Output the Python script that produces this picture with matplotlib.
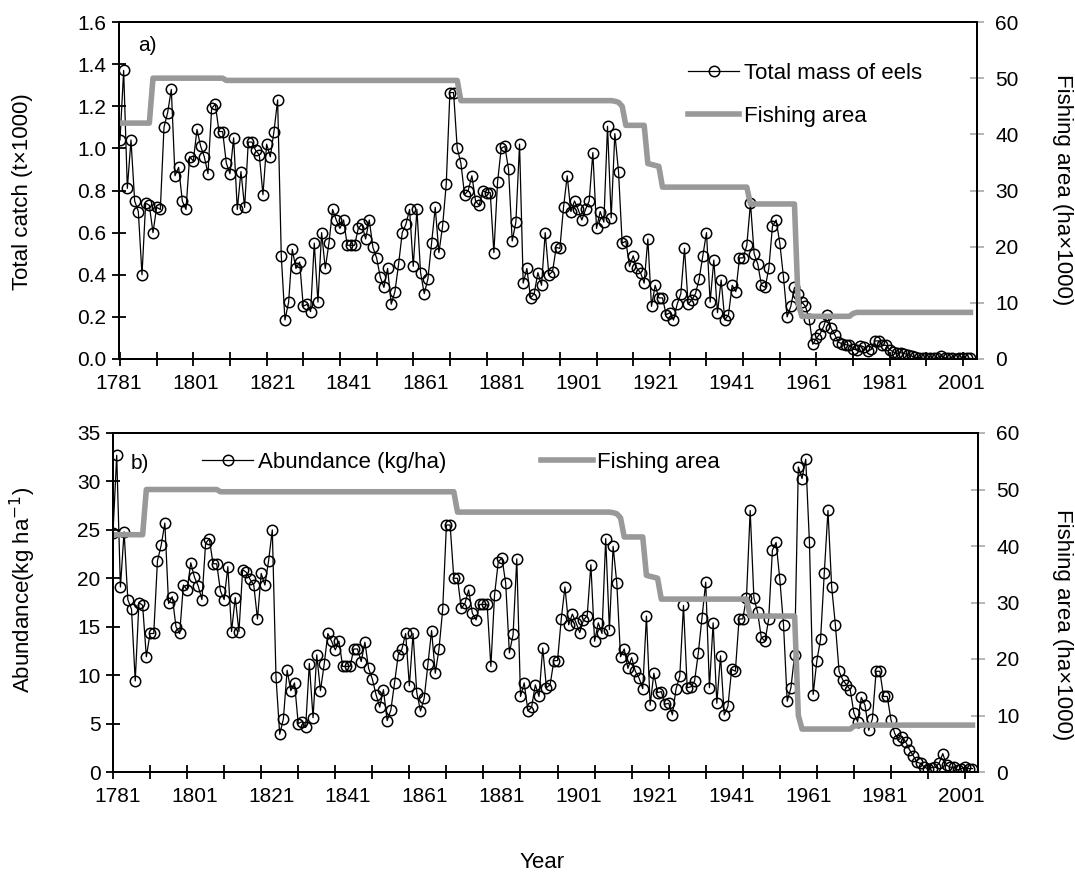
import matplotlib
matplotlib.use('Agg')
import matplotlib.pyplot as plt
import numpy as np

plt.rcParams['font.family'] = ['Liberation Sans', 'DejaVu Sans']

years = np.arange(1781, 2014)

# total catch, t x 1000 (one value per year, 1781-2013)
catch = [
    1.04, 1.37, 0.81, 1.04, 0.75, 0.70, 0.40, 0.74, 0.73, 0.60,
    0.72, 0.71, 1.10, 1.17, 1.28, 0.87, 0.91, 0.75, 0.71, 0.96,
    0.94, 1.09, 1.01, 0.96, 0.88, 1.19, 1.21, 1.08, 1.08, 0.93,
    0.88, 1.05, 0.71, 0.89, 0.72, 1.03, 1.03, 0.99, 0.97, 0.78,
    1.02, 0.96, 1.08, 1.23, 0.49, 0.185, 0.27, 0.52, 0.43, 0.46,
    0.25, 0.26, 0.225, 0.55, 0.27, 0.60, 0.43, 0.55, 0.71, 0.66,
    0.62, 0.66, 0.54, 0.54, 0.54, 0.62, 0.64, 0.57, 0.66, 0.53,
    0.48, 0.39, 0.34, 0.43, 0.26, 0.32, 0.45, 0.60, 0.64, 0.71,
    0.44, 0.71, 0.41, 0.31, 0.38, 0.55, 0.72, 0.505, 0.63, 0.83,
    1.265, 1.265, 1.00, 0.93, 0.78, 0.80, 0.87, 0.75, 0.73, 0.80,
    0.79, 0.79, 0.505, 0.84, 1.00, 1.01, 0.90, 0.56, 0.65, 1.02,
    0.36, 0.43, 0.29, 0.31, 0.41, 0.35, 0.60, 0.40, 0.415, 0.53,
    0.525, 0.72, 0.87, 0.70, 0.75, 0.71, 0.66, 0.71, 0.75, 0.98,
    0.62, 0.70, 0.65, 1.105, 0.67, 1.07, 0.89, 0.55, 0.56, 0.44,
    0.49, 0.43, 0.41, 0.36, 0.57, 0.25, 0.35, 0.29, 0.29, 0.21,
    0.22, 0.185, 0.26, 0.31, 0.525, 0.26, 0.28, 0.31, 0.38, 0.49,
    0.60, 0.27, 0.47, 0.22, 0.375, 0.185, 0.21, 0.35, 0.32, 0.48,
    0.48, 0.54, 0.74, 0.50, 0.45, 0.35, 0.34, 0.43, 0.63, 0.66,
    0.55, 0.39, 0.20, 0.25, 0.34, 0.31, 0.27, 0.25, 0.19, 0.07,
    0.10, 0.12, 0.155, 0.21, 0.145, 0.115, 0.08, 0.072, 0.068, 0.065,
    0.047, 0.043, 0.064, 0.057, 0.036, 0.046, 0.086, 0.086, 0.065, 0.065,
    0.045, 0.033, 0.027, 0.030, 0.026, 0.019, 0.014, 0.008, 0.007, 0.004,
    0.003, 0.004, 0.004, 0.007, 0.015, 0.006, 0.004, 0.004, 0.002, 0.003,
    0.004, 0.003, 0.003,
]

# abundance, kg/ha (1781-2013)
abundance = [
    24.7, 32.7, 19.1, 24.8, 17.8, 16.8, 9.4, 17.5, 17.2, 11.9,
    14.3, 14.3, 21.8, 23.4, 25.7, 17.4, 18.1, 15.0, 14.3, 19.3,
    18.8, 21.6, 20.1, 19.2, 17.8, 23.6, 24.1, 21.5, 21.5, 18.7,
    17.8, 21.2, 14.5, 18.0, 14.5, 20.9, 20.6, 19.9, 19.3, 15.8,
    20.5, 19.3, 21.8, 25.0, 9.8, 3.9, 5.5, 10.5, 8.4, 9.2,
    5.0, 5.2, 4.6, 11.2, 5.6, 12.1, 8.4, 11.1, 14.3, 13.5,
    12.6, 13.5, 10.9, 10.9, 10.9, 12.7, 12.7, 11.4, 13.4, 10.7,
    9.6, 8.0, 6.7, 8.5, 5.3, 6.4, 9.2, 12.1, 12.7, 14.3,
    8.9, 14.3, 8.2, 6.3, 7.6, 11.1, 14.6, 10.2, 12.7, 16.8,
    25.5, 25.5, 20.0, 20.0, 16.9, 17.4, 18.8, 16.4, 15.7, 17.3,
    17.3, 17.3, 10.9, 18.3, 21.7, 22.1, 19.5, 12.3, 14.2, 22.0,
    7.8, 9.2, 6.3, 6.7, 9.0, 7.8, 12.8, 8.7, 9.0, 11.5,
    11.5, 15.8, 19.1, 15.2, 16.3, 15.4, 14.4, 15.7, 16.1, 21.4,
    13.5, 15.4, 14.3, 24.1, 14.7, 23.3, 19.5, 11.9, 12.7, 10.7,
    11.8, 10.4, 9.7, 8.6, 16.1, 6.9, 10.2, 8.2, 8.3, 7.0,
    7.1, 5.9, 8.6, 9.9, 17.2, 8.7, 8.8, 9.4, 12.3, 15.9,
    19.6, 8.7, 15.4, 7.1, 12.0, 5.9, 6.8, 10.6, 10.4, 15.8,
    15.8, 18.0, 27.0, 18.0, 16.5, 13.9, 13.5, 15.8, 22.9, 23.7,
    19.9, 15.2, 7.3, 8.7, 12.1, 31.5, 30.3, 32.3, 23.7, 8.0,
    11.5, 13.7, 20.5, 27.0, 19.1, 15.2, 10.4, 9.5, 9.0, 8.5,
    6.1, 5.2, 7.7, 6.9, 4.3, 5.5, 10.4, 10.4, 7.8, 7.8,
    5.4, 4.0, 3.3, 3.6, 3.1, 2.3, 1.7, 1.0, 0.9, 0.5,
    0.35, 0.45, 0.5, 0.9, 1.9, 0.7, 0.5, 0.5, 0.2, 0.35,
    0.5, 0.35, 0.35,
]

# fishing area, ha x 1000, at the years where it changes
area_years = [1781, 1789, 1790, 1809, 1810, 1873, 1874, 1915, 1916, 1917,
              1918, 1919, 1924, 1925, 1928, 1929, 1952, 1953, 1965, 1966,
              1967, 1980, 1981, 1982, 2013]
area_vals = [42.0, 42.0, 50.0, 50.0, 49.6, 49.6, 46.0, 46.0, 45.9, 45.7,
             45.0, 41.6, 41.6, 34.8, 34.3, 30.6, 30.6, 27.6, 27.6, 10.0,
             7.6, 7.6, 8.1, 8.3, 8.3]

tick_years = list(range(1781, 2012, 10))
year_labels = [str(y) for y in range(1781, 2002, 20)]

FS = 15
LFS = 16
GREY = '#999999'

fig = plt.figure(figsize=(10.75, 8.81), dpi=100)
W, H = 1075, 881


def box(l, t, r, b):
    return [l / W, 1 - b / H, (r - l) / W, (b - t) / H]


def style(ax, ax2, x0, x1, left, right):
    ax.set_xlim(x0, x1)
    # tick marks every 10 years; the year labels sit on their own
    # (slightly wider) spacing, as in the original figure
    ax.set_xticks(tick_years, minor=True)
    lab_px = 118 + 76.7 * np.arange(len(year_labels))
    ax.set_xticks(x0 + (lab_px - left) / (right - left) * (x1 - x0))
    ax.set_xticklabels(year_labels)
    ax.tick_params(direction='inout', length=10, width=1.3, labelsize=FS, pad=4)
    ax.tick_params(axis='x', which='major', length=0, pad=11)
    ax.tick_params(axis='x', which='minor', direction='inout', length=10, width=1.3)
    for s in ax.spines.values():
        s.set_linewidth(1.4)
    ax2.set_ylim(0, 60)
    ax2.set_yticks(range(0, 61, 10))
    ax2.tick_params(direction='inout', length=10, width=1.3, colors='#b0b0b0',
                    labelcolor='black', labelsize=FS, pad=8)
    for s in ax2.spines.values():
        s.set_linewidth(1.4)


# panel a
ax1 = fig.add_axes(box(119, 22, 977, 359))
ax1r = ax1.twinx()
l1, = ax1.plot(years, catch, '-o', color='black', lw=0.9, ms=7.5, mfc='none', mew=1.1)
l2, = ax1r.plot(area_years, area_vals, color=GREY, lw=4)
ax1.set_ylim(0, 1.6)
ax1.set_yticks(np.arange(0, 1.61, 0.2))
ax1.set_yticklabels(['%.1f' % v for v in np.arange(0, 1.61, 0.2)])
style(ax1, ax1r, 1781, 2014.8, 119, 977)
ax1.text(0.022, 0.93, 'a)', transform=ax1.transAxes, fontsize=FS, va='center')
ax1r.legend([l1, l2], ['Total mass of eels', 'Fishing area'], loc='upper left',
            bbox_to_anchor=(688 / W, 1 - 63 / H), bbox_transform=fig.transFigure,
            frameon=False, fontsize=LFS, handlelength=2.3, handletextpad=0.2,
            labelspacing=1.0, borderpad=0, borderaxespad=0)

# panel b
ax2 = fig.add_axes(box(113, 433, 978, 772))
ax2r = ax2.twinx()
m1, = ax2.plot(years, abundance, '-o', color='black', lw=0.9, ms=7.5, mfc='none', mew=1.1)
m2, = ax2r.plot(area_years, area_vals, color=GREY, lw=4)
ax2.set_ylim(0, 35)
ax2.set_yticks(range(0, 36, 5))
style(ax2, ax2r, 1781, 2014.5, 113, 978)
ax2.text(0.02, 0.91, 'b)', transform=ax2.transAxes, fontsize=FS, va='center')
ax2r.legend([m1, m2], ['Abundance (kg/ha)', 'Fishing area'], loc='upper left', ncol=2,
            bbox_to_anchor=(202 / W, 1 - 452 / H), bbox_transform=fig.transFigure,
            frameon=False, fontsize=LFS, handlelength=2.3, handletextpad=0.2,
            columnspacing=4.3, borderpad=0, borderaxespad=0)

# axis titles
fig.text(23 / W, 1 - 192 / H, 'Total catch (t\u00d71000)', rotation=90,
         ha='center', va='center', fontsize=LFS)
fig.text(1063 / W, 1 - 190 / H, 'Fishing area (ha\u00d71000)', rotation=270,
         ha='center', va='center', fontsize=LFS)
fig.text(23 / W, 1 - 590 / H, 'Abundance(kg ha$^{-1}$)', rotation=90,
         ha='center', va='center', fontsize=LFS)
fig.text(1063 / W, 1 - 625 / H, 'Fishing area (ha\u00d71000)', rotation=270,
         ha='center', va='center', fontsize=LFS)
fig.text(542 / W, 1 - 862 / H, 'Year', ha='center', va='center', fontsize=LFS)

fig.savefig('out.png', dpi=100)
plt.close(fig)
